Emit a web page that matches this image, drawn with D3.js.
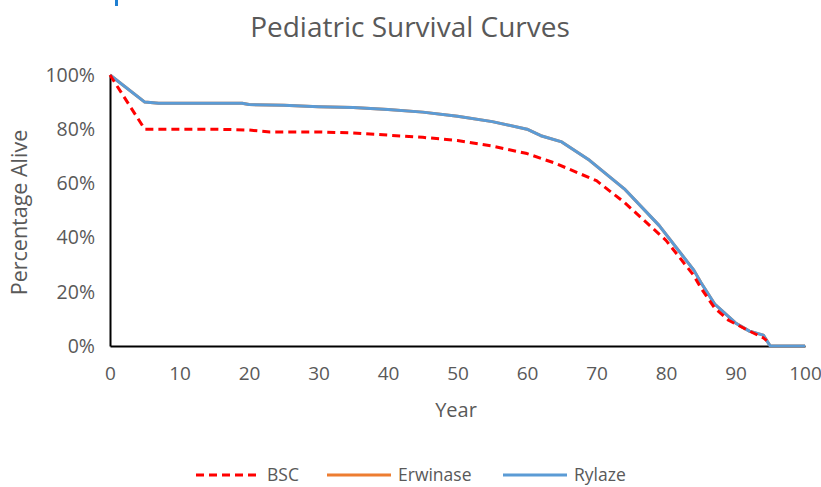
<!DOCTYPE html>
<html>
<head>
<meta charset="utf-8">
<script src="https://cdn.jsdelivr.net/npm/d3@7"></script>
<style>
    html, body { margin: 0; padding: 0; background: #fff; }
    text { font-family: 'Open Sans', sans-serif; fill: #595959; }
</style>
</head>
<body>
<svg id="chart" width="821" height="487"></svg>
<script>
// data
const xTicks = [0, 10, 20, 30, 40, 50, 60, 70, 80, 90, 100];
const yTicks = [0, 0.2, 0.4, 0.6, 0.8, 1];

const bscYears = [0, 5, 10, 15, 20, 23, 30, 35, 40, 45, 50, 55, 60, 64, 70, 74, 80, 84, 85, 87, 89, 92, 94, 94.5];
const bscValues = [1, 0.80, 0.80, 0.80, 0.797, 0.79, 0.79, 0.786, 0.778, 0.77, 0.758, 0.738, 0.71, 0.675, 0.61, 0.53, 0.39, 0.26, 0.215, 0.14, 0.095, 0.055, 0.03, 0.02];

const rylazeYears = [0, 5, 7, 19, 20, 25, 30, 35, 40, 45, 50, 55, 60, 62, 65, 69, 74, 79, 84, 85, 87, 90, 92, 94, 95, 100];
const rylazeValues = [1, 0.90, 0.896, 0.896, 0.891, 0.888, 0.883, 0.88, 0.873, 0.863, 0.848, 0.828, 0.80, 0.776, 0.753, 0.685, 0.58, 0.445, 0.28, 0.235, 0.155, 0.085, 0.055, 0.04, 0, 0];

// Erwinase sits underneath Rylaze, so it is hidden in the picture
const erwinaseYears = rylazeYears;
const erwinaseValues = rylazeValues;

const seriesList = [
    {name: 'Erwinase', years: erwinaseYears, values: erwinaseValues, color: '#ed7d31', dash: null},
    {name: 'Rylaze', years: rylazeYears, values: rylazeValues, color: '#5b9bd5', dash: null},
    {name: 'BSC', years: bscYears, values: bscValues, color: '#ff0000', dash: '8,5'},
];
const legendOrder = ['BSC', 'Erwinase', 'Rylaze'];

const svg = d3.select('#chart');
const plot = {left: 110, right: 805, top: 75, bottom: 346};

const x = d3.scaleLinear().domain([0, 100]).range([plot.left, plot.right]);
const y = d3.scaleLinear().domain([0, 1]).range([plot.bottom, plot.top]);

// odd little blue mark at top left of the crop
svg.append('rect').attr('x', 115).attr('y', 0).attr('width', 3).attr('height', 6).attr('fill', '#1f7fd1');

svg.append('text')
    .attr('x', 410).attr('y', 37)
    .attr('text-anchor', 'middle')
    .style('font-size', '28px')
    .text('Pediatric Survival Curves');

// axes
const xAxis = svg.append('g')
    .attr('transform', `translate(0,${plot.bottom})`)
    .call(d3.axisBottom(x).tickValues(xTicks).tickSize(0).tickPadding(21).tickFormat(d3.format('d')));
xAxis.select('.domain').attr('stroke', '#000').attr('stroke-width', 2);
xAxis.selectAll('text').style('font-size', '19px').style('font-family', "'Open Sans', sans-serif").attr('fill', '#595959');

const yAxis = svg.append('g')
    .attr('transform', `translate(${plot.left},0)`)
    .call(d3.axisLeft(y).tickValues(yTicks).tickSize(0).tickPadding(15).tickFormat(d3.format('.0%')));
yAxis.select('.domain').attr('stroke', '#000').attr('stroke-width', 2);
yAxis.selectAll('text').style('font-size', '19.5px').style('font-family', "'Open Sans', sans-serif").attr('fill', '#595959');

svg.append('text')
    .attr('x', 456).attr('y', 417)
    .attr('text-anchor', 'middle')
    .style('font-size', '20px')
    .text('Year');

svg.append('text')
    .attr('transform', `translate(27,${(plot.top + plot.bottom) / 2 + 2}) rotate(-90)`)
    .attr('text-anchor', 'middle')
    .style('font-size', '21.5px')
    .text('Percentage Alive');

// lines
const line = d3.line()
    .x(d => x(d[0]))
    .y(d => y(d[1]));

seriesList.forEach((s) => {
    svg.append('path')
        .datum(d3.zip(s.years, s.values))
        .attr('fill', 'none')
        .attr('stroke', s.color)
        .attr('stroke-width', 3)
        .attr('stroke-dasharray', s.dash)
        .attr('stroke-linejoin', 'round')
        .attr('d', line);
});

// legend
const legendX = [196, 327, 503];
legendOrder.forEach((name, i) => {
    const s = seriesList.find(d => d.name === name);
    const g = svg.append('g').attr('transform', `translate(${legendX[i]},475)`);
    g.append('line')
        .attr('x1', 0).attr('x2', 64)
        .attr('stroke', s.color)
        .attr('stroke-width', 3)
        .attr('stroke-dasharray', s.dash);
    g.append('text')
        .attr('x', 71).attr('y', 6)
        .style('font-size', '17.5px')
        .text(name);
});
</script>
</body>
</html>
